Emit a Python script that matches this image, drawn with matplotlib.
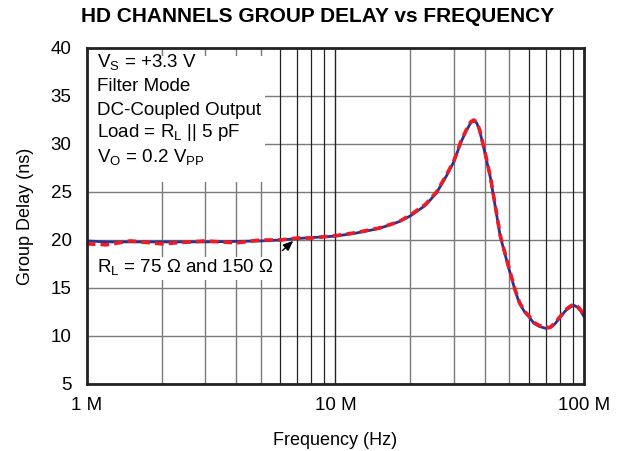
import matplotlib
matplotlib.use("Agg")
import matplotlib.pyplot as plt
from matplotlib.patches import Rectangle

plt.rcParams['font.family'] = ['Liberation Sans', 'DejaVu Sans']
plt.rcParams['mathtext.fontset'] = 'custom'
plt.rcParams['mathtext.rm'] = 'Liberation Sans'

# frequency in MHz
freq_mhz = [1, 1.2, 1.5, 2, 3, 4, 5, 6, 7, 8, 10, 12, 15, 18, 20, 23, 25.5, 28,
            30, 32, 33.5, 35, 36, 37, 38, 39, 40, 42, 44, 46, 48, 50, 53, 55, 58,
            60, 63, 66, 70, 73, 76, 80, 84, 88, 91, 94, 97, 100]
delay_150 = [19.9, 19.8, 19.8, 19.8, 19.8, 19.85, 19.9, 20.0, 20.15, 20.25, 20.4,
             20.7, 21.2, 21.9, 22.5, 23.6, 24.9, 26.7, 28.2, 30.2, 31.3, 32.2,
             32.4, 32.2, 31.4, 30.2, 29.0, 26.5, 23.4, 20.4, 18.6, 16.9, 14.6,
             13.4, 12.4, 12.0, 11.3, 11.0, 10.8, 10.85, 11.2, 11.9, 12.6, 13.0,
             13.2, 13.0, 12.6, 12.0]
delay_75 = [19.6, 19.5, 19.9, 19.6, 19.9, 19.7, 20.0, 20.0, 20.2, 20.2, 20.45,
            20.75, 21.25, 21.9, 22.6, 23.7, 25.0, 26.8, 28.3, 30.3, 31.4, 32.3,
            32.5, 32.3, 31.5, 30.3, 29.1, 26.6, 23.5, 20.5, 18.7, 17.0, 14.7,
            13.5, 12.5, 12.1, 11.4, 11.1, 10.9, 10.9, 11.3, 12.0, 12.7, 13.1,
            13.3, 13.1, 12.7, 12.1]

y_ticks = [5, 10, 15, 20, 25, 30, 35, 40]
x_ticks = [1, 10, 100]
x_labels = ['1 M', '10 M', '100 M']
minor_dark = [6, 7, 8, 9, 60, 70, 80, 90]
minor_grey = [2, 3, 4, 5, 20, 30, 40, 50]

fig = plt.figure(figsize=(6.2, 4.51), dpi=100)
ax = fig.add_axes([0.140, 0.1486, 0.802, 0.745])

ax.set_xscale('log')
ax.set_xlim(1, 100)
ax.set_ylim(5, 40)

# grid drawn by hand
for y in y_ticks:
    ax.axhline(y, color='#7a7a7a', lw=1.0, zorder=0)
for f in minor_grey:
    ax.axvline(f, color='#7a7a7a', lw=1.0, zorder=0)
for f in minor_dark:
    ax.axvline(f, color='#222222', lw=0.9, zorder=0)
ax.axvline(10, color='#222222', lw=1.0, zorder=0)

# white box behind the conditions text
ax.add_patch(Rectangle((0.0, 0.601), 0.358, 0.375, transform=ax.transAxes,
                       facecolor='white', edgecolor='none', zorder=1))

ax.plot(freq_mhz, delay_150, color='#2e3192', lw=2.0, zorder=3)
ax.plot(freq_mhz, delay_75, color='#ed1c24', lw=2.6, ls=(0, (2.4, 1.4)), zorder=4)

lines = [r'V$_\mathregular{S}$ = +3.3 V', 'Filter Mode', 'DC-Coupled Output',
         r'Load = R$_\mathregular{L}$ || 5 pF', r'V$_\mathregular{O}$ = 0.2 V$_\mathregular{PP}$']
ys = [0.955, 0.884, 0.815, 0.747, 0.673]
for s, yy in zip(lines, ys):
    ax.text(0.02, yy, s, transform=ax.transAxes, fontsize=13.5, va='center',
            ha='left', zorder=5)

ax.text(0.02, 0.345, r'R$_\mathregular{L}$ = 75 $\Omega$ and 150 $\Omega$',
        transform=ax.transAxes, fontsize=13.5, va='center', ha='left', zorder=5,
        bbox=dict(facecolor='white', edgecolor='none', pad=1.0))
ax.annotate('', xy=(6.9, 20.1), xytext=(6.0, 18.7),
            arrowprops=dict(arrowstyle='-|>,head_length=0.6,head_width=0.25',
                            color='black', lw=1.0), zorder=6)

ax.set_xticks(x_ticks)
ax.set_xticklabels(x_labels)
ax.set_xticks([], minor=True)
ax.set_yticks(y_ticks)
ax.tick_params(axis='both', length=0, labelsize=13.5)
ax.tick_params(axis='x', pad=9.5)
ax.tick_params(axis='y', pad=11)

for sp in ax.spines.values():
    sp.set_linewidth(2.0)
    sp.set_color('#222222')
    sp.set_zorder(7)

ax.set_xlabel('Frequency (Hz)', fontsize=13, labelpad=13)
ax.set_ylabel('Group Delay (ns)', fontsize=13, labelpad=12)
fig.text(0.512, 0.951, 'HD CHANNELS GROUP DELAY vs FREQUENCY', ha='center',
         va='baseline', fontsize=15, fontweight='bold')

fig.savefig('out.png', dpi=100)
